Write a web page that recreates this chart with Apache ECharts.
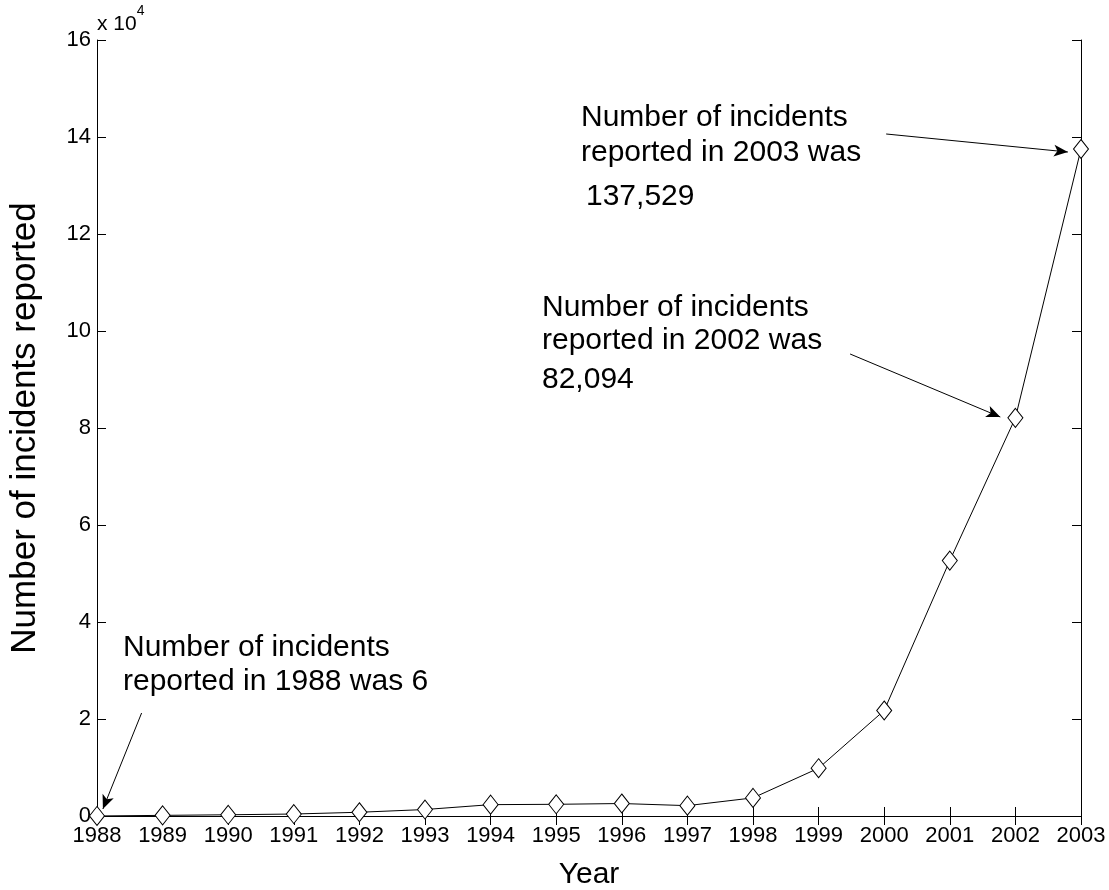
<!DOCTYPE html>
<html>
<head>
<meta charset="utf-8">
<script src="https://cdn.jsdelivr.net/npm/echarts@6/dist/echarts.min.js"></script>
<style>
  html, body { margin: 0; padding: 0; background: #fff; }
  #chart { width: 1109px; height: 890px; }
</style>
</head>
<body>
<div id="chart"></div>
<script>
const years = [1988, 1989, 1990, 1991, 1992, 1993, 1994, 1995, 1996, 1997, 1998, 1999, 2000, 2001, 2002, 2003];
const incidents = [6, 132, 252, 406, 773, 1334, 2340, 2412, 2573, 2134, 3734, 9859, 21756, 52658, 82094, 137529];
const yTicks = [0, 2, 4, 6, 8, 10, 12, 14, 16];

// annotation lines: [text, left, top]
const notes1988 = [['Number of incidents', 123, 630], ['reported in 1988 was 6', 123, 664]];
const notes2002 = [['Number of incidents', 542, 290], ['reported in 2002 was', 542, 323], ['82,094', 542, 362]];
const notes2003 = [['Number of incidents', 581, 100], ['reported in 2003 was', 581, 135], ['137,529', 586, 179]];

// arrows, in data coordinates: [from, to]
const arrows = [
  [[1988.68, 21237], [1988.09, 1443]],
  [[1999.48, 95258], [2001.77, 82268]],
  [[2000.03, 140619], [2002.80, 136907]]
];

const FONT = '"Liberation Sans", Arial, sans-serif';
const chart = echarts.init(document.getElementById('chart'));

const textEls = [].concat(notes1988, notes2002, notes2003).map(n => ({
  type: 'text',
  left: n[1],
  top: n[2],
  style: { text: n[0], fontSize: 30, fontFamily: FONT, fill: '#000', lineHeight: 35 }
}));

const axisCommon = {
  axisLine: { show: true, lineStyle: { color: '#000', width: 1 } },
  axisTick: { show: true, inside: true, length: 9, lineStyle: { color: '#000' } },
  splitLine: { show: false }
};

chart.setOption({
  animation: false,
  backgroundColor: '#fff',
  textStyle: { fontFamily: FONT },
  grid: { left: 97, right: 28, top: 40, bottom: 74, outerBoundsMode: 'none', containLabel: false },
  xAxis: [
    {
      ...axisCommon,
      type: 'value',
      min: 1988,
      max: 2003,
      interval: 1,
      name: 'Year',
      nameLocation: 'middle',
      nameGap: 44,
      nameTextStyle: { fontSize: 30, color: '#000', fontFamily: FONT },
      axisLabel: { fontSize: 22, color: '#000', margin: 9, fontFamily: FONT, formatter: v => String(v) }
    },
    {
      ...axisCommon,
      type: 'value',
      position: 'top',
      min: 1988,
      max: 2003,
      interval: 1,
      axisLabel: { show: false }
    }
  ],
  yAxis: [
    {
      ...axisCommon,
      type: 'value',
      min: 0,
      max: 160000,
      interval: 20000,
      name: 'Number of incidents reported',
      nameLocation: 'middle',
      nameRotate: 90,
      nameGap: 54,
      nameTextStyle: { fontSize: 35, color: '#000', fontFamily: FONT },
      axisLabel: { fontSize: 22, color: '#000', margin: 6, fontFamily: FONT, formatter: v => String(yTicks[Math.round(v / 20000)]) }
    },
    {
      ...axisCommon,
      type: 'value',
      position: 'right',
      min: 0,
      max: 160000,
      interval: 20000,
      axisLabel: { show: false }
    }
  ],
  graphic: [
    {
      type: 'text',
      left: 97,
      top: 4,
      style: {
        text: '{b|x 10}{s|4}',
        fontFamily: FONT,
        fill: '#000',
        rich: {
          b: { fontSize: 21, fontFamily: FONT, verticalAlign: 'bottom', padding: [10, 0, 0, 0] },
          s: { fontSize: 14, fontFamily: FONT, verticalAlign: 'top' }
        }
      }
    }
  ].concat(textEls),
  series: [
    {
      type: 'line',
      data: years.map((y, i) => [y, incidents[i]]),
      symbol: 'diamond',
      symbolSize: [15, 19],
      showAllSymbol: true,
      lineStyle: { color: '#000', width: 1 },
      itemStyle: { color: '#fff', borderColor: '#000', borderWidth: 1 },
      z: 5,
      markLine: {
        silent: true,
        symbol: ['none', 'arrow'],
        symbolSize: [9, 14],
        label: { show: false },
        lineStyle: { color: '#000', width: 1, type: 'solid' },
        data: arrows.map(a => [{ coord: a[0] }, { coord: a[1] }])
      }
    }
  ]
});
</script>
</body>
</html>
